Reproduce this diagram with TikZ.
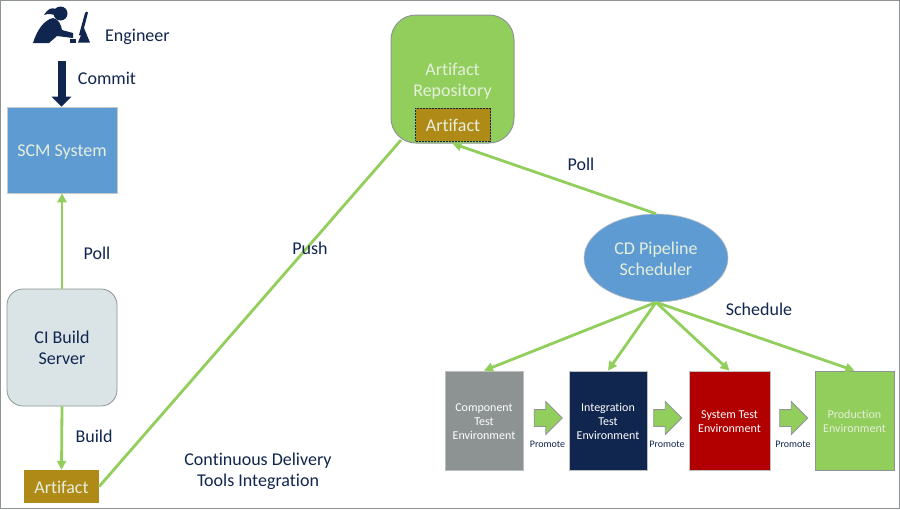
\documentclass[tikz,border=0pt]{standalone}
\usepackage{fontspec}
\setmainfont{Carlito}[Ligatures=NoCommon]
\usetikzlibrary{arrows.meta,shapes.geometric,shapes.arrows}
\definecolor{gr}{HTML}{92CE5C}
\definecolor{navy}{HTML}{10264F}
\definecolor{blu}{HTML}{5F9BD3}
\definecolor{gold}{HTML}{B08A17}
\definecolor{frm}{HTML}{8E9494}
\definecolor{cibg}{HTML}{DAE3E6}
\definecolor{pale}{HTML}{E4EFDC}
\newcommand{\envstrut}{\rule{0pt}{11pt}}
\tikzset{
 conn/.style={draw=gr,line width=2.8pt,-{Triangle[length=9pt,width=9pt]}},
 lbl/.style={text=navy,font=\fontsize{18}{21}\selectfont,inner sep=0pt,align=center},
 envbox/.style={draw=frm!60,line width=.8pt,text=white,inner sep=0pt,align=center,minimum width=78pt,minimum height=99pt,font=\fontsize{12}{14}\selectfont},
 prom/.style={single arrow,fill=gr,draw=frm,line width=.8pt,minimum height=28pt,single arrow head extend=8pt,inner sep=0pt},
 promlbl/.style={text=navy,font=\fontsize{10}{11}\selectfont,inner sep=0pt},
}
\begin{document}
\begin{tikzpicture}[x=1pt,y=-1pt]
\useasboundingbox (0,0) rectangle (900,509);
\fill[white] (0,0) rectangle (900,509);
\draw[frm,line width=1.2pt] (.5,508.5) -- (.5,.5) -- (899.5,.5) -- (899.5,508.5) -- cycle;
% engineer icon
\fill[navy] (60.5,13.5) circle (7);
\fill[navy] (56,9) .. controls (51,7) and (48,9) .. (44,15) .. controls (48,13.5) and (51,14) .. (55,15) -- cycle;
\fill[navy] (33,43) .. controls (37,30) and (44,20) .. (53,18) .. controls (59,19) and (61,25) .. (62,30) -- (73,33) -- (73,38) -- (57,36) -- (49,43) -- cycle;
\fill[navy] (70,39) rectangle (76,42.5);
\fill[navy] (88,12.5) -- (86.5,11.5) -- (85,13) -- (79,35) -- (82,36) -- cycle;
\fill[navy] (84,28) -- (90,42.5) -- (78,42.5) -- cycle;
% nodes
\node[lbl,anchor=west] (eng) at (105,37) {Engineer};
\coordinate (engb) at (61.5,61);
\node[draw=frm!50,fill=blu,line width=.6pt,minimum width=110pt,minimum height=86pt,inner sep=0pt,text=pale,font=\fontsize{18}{21}\selectfont] (scm) at (62,150) {\rule{0pt}{15.5pt}SCM System};
\node[draw=frm,fill=cibg,rounded corners=16pt,line width=.8pt,minimum width=110pt,minimum height=117pt,inner sep=0pt,align=center,text=navy,font=\fontsize{18}{21}\selectfont] (ci) at (62,347.5) {CI Build\\Server};
\node[fill=gold,text=pale,minimum width=75pt,minimum height=33pt,inner sep=0pt,font=\fontsize{18}{21}\selectfont] (art) at (61.5,486.5) {\rule{0pt}{14.5pt}Artifact};
\node[draw=frm,fill=gr,rounded corners=25pt,line width=1pt,minimum width=123pt,minimum height=128pt,inner sep=0pt] (repo) at (452.5,79) {};
\node[text=pale,inner sep=0pt,align=center,font=\fontsize{18}{21}\selectfont] (repot) at (452.5,81) {Artifact\\Repository};
\node[fill=gold,draw=navy,densely dotted,line width=.5pt,text=pale,minimum width=75pt,minimum height=33pt,inner sep=0pt,font=\fontsize{18}{21}\selectfont] (art2) at (453,124.5) {\rule{0pt}{14pt}Artifact};
\node[ellipse,fill=blu,draw=frm!60,line width=.6pt,minimum width=144pt,minimum height=88pt,inner sep=0pt] (sched) at (656,258) {};
\node[text=pale,inner sep=0pt,align=center,font=\fontsize{18}{21}\selectfont] (schedt) at (656,259) {CD Pipeline\\Scheduler};
\node[envbox,fill=frm!90!gray] (comp) at (484,420.5) {\envstrut Component\\Test\\Environment};
\node[envbox,fill=navy] (integ) at (608,420.5) {\envstrut Integration\\Test\\Environment};
\node[envbox,fill=red!70!black,minimum width=81pt] (sys) at (729.5,420.5) {\envstrut System Test\\Environment};
\node[envbox,fill=gr,minimum width=79pt,draw=frm,text=pale] (prod) at (854.5,420.5) {\envstrut Production\\Environment};
\node[prom] (p1) at (544,418) {\rule{0pt}{16pt}};
\node[prom] (p2) at (663.5,418) {\rule{0pt}{16pt}};
\node[prom] (p3) at (789.5,418) {\rule{0pt}{16pt}};
\node[promlbl] (pl1) at (547.5,444) {Promote};
\node[promlbl] (pl2) at (667,444) {Promote};
\node[promlbl] (pl3) at (793,444) {Promote};
% connectors
\draw[draw=navy,line width=8pt,-{Triangle[length=10pt,width=19pt]}] (engb) -- (scm.north -| engb);
\draw[conn] (ci.north) -- (scm.south);
\draw[conn] (ci.south) -- (art.north);
\coordinate (pushe) at (401,140);
\draw[draw=gr,line width=2.8pt] (art.east) -- (pushe);
\draw[conn] (sched.north) -- (repo.south);
\draw[conn] (sched.south) -- (comp.north);
\draw[conn] (sched.south) -- (integ.north);
\draw[conn] (sched.south) -- (sys.north);
\draw[conn] (sched.south) -- (prod.north);
% labels
\node[lbl] (l1) at (107,78) {Commit};
\node[lbl] (l2) at (97,253) {Poll};
\node[lbl] (l3) at (94,436.5) {Build};
\node[lbl] (l4) at (310,248) {Push};
\node[lbl] (l5) at (581,164) {Poll};
\node[lbl] (l6) at (759,309) {Schedule};
\node[lbl] (l7) at (258,471) {Continuous Delivery\\Tools Integration};
\end{tikzpicture}
\end{document}
